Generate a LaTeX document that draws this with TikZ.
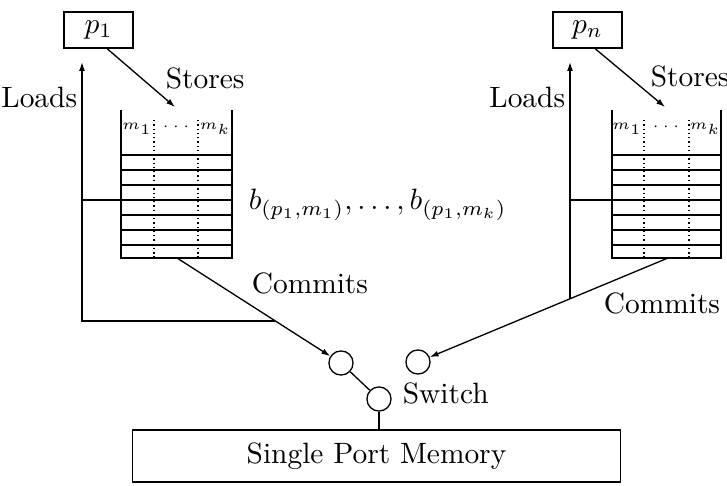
\documentclass[tikz,border=0pt]{standalone}
\usetikzlibrary{arrows.meta}
\tikzset{every picture/.style={line width=0.45pt}}
\tikzset{
  procbox/.style={draw, minimum width=23.5pt, minimum height=12.2pt, inner sep=0.75pt},
  swnode/.style={draw, circle, minimum size=8.2pt, inner sep=0pt},
  membox/.style={draw, minimum width=166pt, minimum height=17.7pt, inner sep=0.75pt},
  conn/.style={-{Latex[length=3pt,width=2pt]}}
}

\begin{document}
\begin{tikzpicture}[x=0.34pt,y=0.34pt,yscale=-1,xscale=1]
    \useasboundingbox (0,0) rectangle (727,485); %set diagram to 727 x 485
    % Text Node
    \node (p1) [procbox] at (98.5,30) {$p_1$};
    \node (pn) [procbox] at (587.5,30) {$p_n$};
    % Text Node
    \node (mem) [membox] at (376.5,456) {Single Port Memory};
    % Switch
    \node (swl) [swnode] at (341,363) {};
    \node (swr) [swnode] at (418,362) {};
    \node (swb) [swnode] at (379,399) {};
    % Buffer p1
    \draw    (121,110) -- (121,258) -- (232,258) -- (232,110) ;
    \draw    (121,155) -- (232,155) (121,170) -- (232,170) (121,185) -- (232,185) (121,200) -- (232,200)
             (121,215) -- (232,215) (121,230) -- (232,230) (121,245) -- (232,245) ;
    \draw  [densely dotted]  (154,120) -- (154,258) (198,120) -- (198,258) ;
    \node (m11) at (137,129) {\tiny $m_1$};
    \node (d1) at (176,127) {\tiny $\cdots$};
    \node (mk1) at (215,129) {\tiny $m_k$};
    % Buffer pn
    \draw    (612,110) -- (612,258) -- (721,258) -- (721,110) ;
    \draw    (612,155) -- (721,155) (612,170) -- (721,170) (612,185) -- (721,185) (612,200) -- (721,200)
             (612,215) -- (721,215) (612,230) -- (721,230) (612,245) -- (721,245) ;
    \draw  [densely dotted]  (644,120) -- (644,258) (689,120) -- (689,258) ;
    \node (m1n) at (627,129) {\tiny $m_1$};
    \node (dn) at (666,127) {\tiny $\cdots$};
    \node (mkn) at (705,129) {\tiny $m_k$};
    % Points
    \coordinate (sa1) at (175,107);
    \coordinate (sa2) at (665,107);
    \coordinate (cm1) at (177,258);
    \coordinate (cm2) at (668,258);
    \coordinate (ld1) at (82,62);
    \coordinate (ld2) at (570,62);
    \coordinate (bf1) at (121,200);
    \coordinate (bf2) at (612,200);
    \coordinate (j1) at (275,321);
    \coordinate (j2) at (570,299);
    % Connection
    \draw [conn]  ([xshift=2.9pt]p1.south) -- (sa1) ;
    \draw [conn]  ([xshift=2.55pt]pn.south) -- (sa2) ;
    % Connection
    \draw [conn]  (cm1) -- (swl) ;
    \draw [conn]  (cm2) -- (swr) ;
    % Connection
    \draw [conn]  (j1) -- (82,321) -- (ld1) ;
    \draw    (bf1) -- (82,200) ;
    \draw [conn]  (j2) -- (ld2) ;
    \draw    (bf2) -- (570,200) ;
    % Connection
    \draw    (swl) -- (swb) ;
    \draw    (swb) -- (swb |- mem.north) ;
    % Labels
    \node (lds1) [anchor=east, inner sep=0.75pt] at (80,97) {Loads};
    \node (lds2) [anchor=east, inner sep=0.75pt] at (568,97) {Loads};
    \node (sts1) [anchor=west, inner sep=0.75pt] at (163,78) {Stores};
    \node (sts2) [anchor=west, inner sep=0.75pt] at (648,76) {Stores};
    \node (cms1) [anchor=west, inner sep=0.75pt] at (249,283) {Commits};
    \node (cms2) [anchor=west, inner sep=0.75pt] at (601,303) {Commits};
    \node (swt) [anchor=west, inner sep=0.75pt] at (400,393) {Switch};
    \node (blab) [anchor=west, inner sep=0.75pt] at (246,205) {$b_{(p_1,m_1)},\ldots,b_{(p_1,m_k)}$};

\end{tikzpicture}
\end{document}
